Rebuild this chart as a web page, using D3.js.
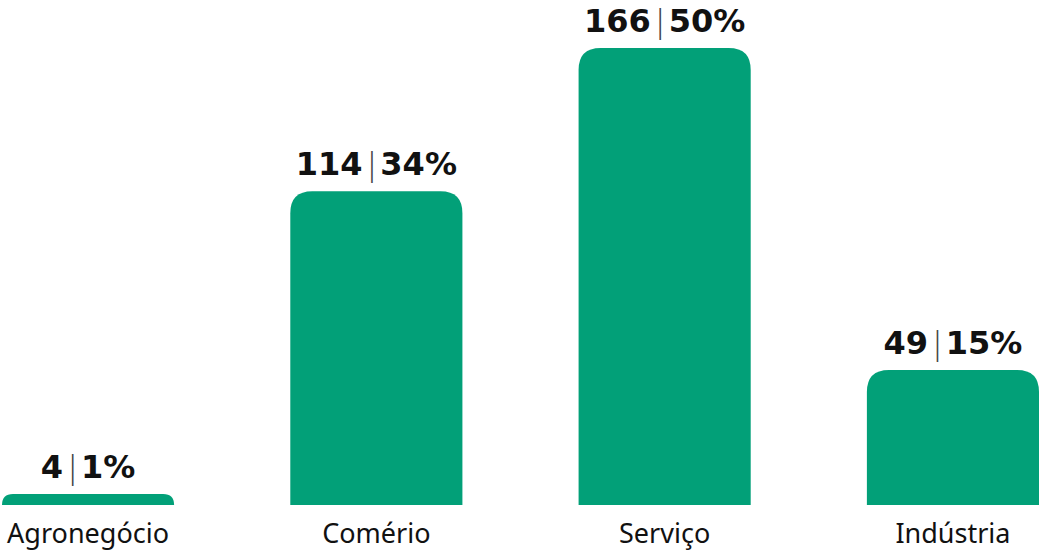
<!DOCTYPE html>
<html>
<head>
<meta charset="utf-8">
<script src="https://cdn.jsdelivr.net/npm/d3@7"></script>
<style>
  html, body { margin: 0; padding: 0; background: #fff; }
</style>
</head>
<body>
<div id="chart"></div>
<script>
// data
const categories = ["Agronegócio", "Comério", "Serviço", "Indústria"];
const counts = [4, 114, 166, 49];
const shares = ["1%", "34%", "50%", "15%"];

const W = 1039, H = 551;
const barColor = "#02a078";

const svg = d3.select("#chart").append("svg")
  .attr("width", W)
  .attr("height", H);

const x = d3.scaleBand()
  .domain(categories)
  .range([2, W])
  .paddingInner(0.403)
  .paddingOuter(0);

const y = d3.scaleLinear()
  .domain([0, d3.max(counts)])
  .range([505, 48]);

const data = categories.map((c, i) => ({ cat: c, n: counts[i], pct: shares[i] }));

// bar with rounded top corners only
function topRounded(x0, y0, w, h, r) {
  r = Math.min(r, h, w / 2);
  return "M" + x0 + "," + (y0 + h) +
    "V" + (y0 + r) +
    "Q" + x0 + "," + y0 + " " + (x0 + r) + "," + y0 +
    "H" + (x0 + w - r) +
    "Q" + (x0 + w) + "," + y0 + " " + (x0 + w) + "," + (y0 + r) +
    "V" + (y0 + h) + "Z";
}

svg.append("g").selectAll("path")
  .data(data)
  .enter()
  .append("path")
  .attr("fill", barColor)
  .attr("d", d => topRounded(x(d.cat), y(d.n), x.bandwidth(), y(0) - y(d.n), 22));

// value labels
const lbl = svg.append("g").selectAll("text")
  .data(data)
  .enter()
  .append("text")
  .attr("x", d => x(d.cat) + x.bandwidth() / 2)
  .attr("y", d => y(d.n) - 16)
  .attr("text-anchor", "middle")
  .style("font-family", "'DejaVu Sans', sans-serif")
  .style("font-size", "32px")
  .style("font-weight", 700)
  .attr("fill", "#111");

lbl.append("tspan").text(d => d.n);
lbl.append("tspan")
  .text("|")
  .attr("dx", 4)
  .style("font-weight", 200)
  .style("font-size", "32px")
  .attr("fill", "#444");
lbl.append("tspan").attr("dx", 3).text(d => d.pct);

// category axis labels
svg.append("g").selectAll("text")
  .data(data)
  .enter()
  .append("text")
  .attr("x", d => x(d.cat) + x.bandwidth() / 2)
  .attr("y", 543)
  .attr("text-anchor", "middle")
  .style("font-family", "'Noto Sans', sans-serif")
  .style("font-size", "27px")
  .attr("fill", "#111")
  .text(d => d.cat);
</script>
</body>
</html>
